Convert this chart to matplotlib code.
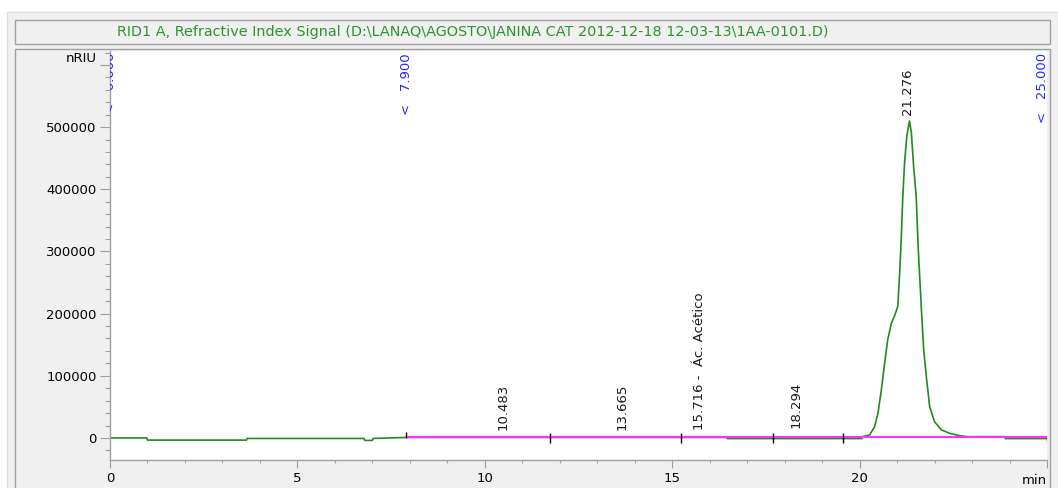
import matplotlib
matplotlib.use('Agg')
import matplotlib.pyplot as plt
from matplotlib.patches import Rectangle
from matplotlib.ticker import MultipleLocator

# RI signal (min, nRIU)
time = [0.0, 0.98, 1.0, 3.64, 3.66, 6.78, 6.8, 7.0, 7.02, 7.9,
        16.45, 16.47, 20.06, 20.08,
        20.27, 20.40, 20.49, 20.58, 20.67, 20.75, 20.85, 20.93, 21.02,
        21.07, 21.11, 21.15, 21.20, 21.26, 21.33, 21.38, 21.44, 21.51,
        21.57, 21.65, 21.71, 21.78, 21.87, 22.00, 22.18, 22.40, 22.67,
        22.88, 23.87, 23.89, 25.0]
signal = [0, 0, -3500, -3500, -800, -800, -4000, -4000, -800, 800,
          800, -1000, -1000, 2000,
          5000, 18000, 40000, 77000, 121000, 158000, 185000, 196000, 212000,
          266000, 319000, 384000, 443000, 486000, 510000, 492000, 438000, 389000,
          298000, 206000, 142000, 99000, 50000, 26000, 13000, 7500, 3700,
          2000, 2000, -1000, -1000]

# integration baselines
base_time = [7.9, 16.45, 16.45, 25.0]
base_signal = [800, 800, 2000, 2000]

# integration event ticks
tick_time = [7.9, 11.75, 15.23, 17.68, 19.55, 25.0]
tick_low = [0, -8000, -8000, -8000, -8000, -6000]
tick_high = [9000, 8000, 8000, 8000, 8000, 2000]

# peak labels
peak_time = [10.483, 13.665, 15.716, 18.294, 21.276]
peak_height = [4000, 4000, 4000, 8000, 512000]
peak_label = ['10.483', '13.665', '15.716 -  Ác. Acético', '18.294', '21.276']

# timed events
event_time = [0.0, 7.9, 25.0]
event_label = ['<   0.000', '<   7.900', '<   25.000']
event_shift = [0, 0, -5]

title = 'RID1 A, Refractive Index Signal (D:\\LANAQ\\AGOSTO\\JANINA CAT 2012-12-18 12-03-13\\1AA-0101.D)'

W, H = 1058, 488
plt.rcParams['font.family'] = 'DejaVu Sans'
plt.rcParams['font.size'] = 9.5
fig = plt.figure(figsize=(W / 100, H / 100), dpi=100, facecolor='white')


def box(x0, y0, x1, y1, face, edge, lw=1.0):
    fig.patches.append(Rectangle((x0 / W, 1 - y1 / H), (x1 - x0) / W, (y1 - y0) / H,
                                 transform=fig.transFigure, facecolor=face,
                                 edgecolor=edge, linewidth=lw, zorder=-5))


box(7, 12, 1060, 492, '#f0f0f0', '#dcdcdc')
box(15, 20, 1050, 44, '#f0f0f0', '#a0a0a0')
box(15, 49, 1050, 495, '#f0f0f0', '#a0a0a0')
fig.text(473 / W, 1 - 32 / H, title, color='#2a962a', ha='center', va='center',
         fontsize=10.4)

ax = fig.add_axes([110 / W, 28 / H, (1047 - 110) / W, (460 - 51) / H])
ax.set_facecolor('white')

ax.plot(time, signal, color='#1e8c1e', lw=1.2, zorder=2)
ax.plot(base_time, base_signal, color='#ff30ff', lw=1.5, zorder=3)
ax.vlines(tick_time, tick_low, tick_high, color='black', lw=1.0, zorder=4)

for t, h, s in zip(peak_time, peak_height, peak_label):
    ax.annotate(s, xy=(t, h), xytext=(0, 5), textcoords='offset pixels',
                rotation=90, ha='center', va='bottom', color='#1a1a1a')

for t, s, dx in zip(event_time, event_label, event_shift):
    ax.annotate(s, xy=(t, 1), xycoords=('data', 'axes fraction'),
                xytext=(dx, -2), textcoords='offset pixels', rotation=90,
                ha='center', va='top', color='#2828ff', clip_on=True,
                annotation_clip=False)

ax.set_xlim(0, 25)
ax.set_ylim(-35500, 622600)

ax.set_xticks([0, 5, 10, 15, 20, 25])
ax.set_xticklabels(['0', '5', '10', '15', '20', ''])
ax.xaxis.set_minor_locator(MultipleLocator(1))
ax.set_yticks([0, 100000, 200000, 300000, 400000, 500000, 600000])
ax.set_yticklabels(['0', '100000', '200000', '300000', '400000', '500000', 'nRIU'])
ax.get_yticklabels()[-1].set_va('bottom')
ax.yaxis.set_minor_locator(MultipleLocator(20000))

ax.tick_params(axis='x', which='major', length=5.8, width=0.8, color='#a0a0a0', pad=3.0)
ax.tick_params(axis='x', which='minor', length=2.5, width=0.8, color='#a0a0a0')
ax.tick_params(axis='y', which='major', length=7.2, width=0.8, color='#a0a0a0', pad=2.5)
ax.tick_params(axis='y', which='minor', length=3.4, width=0.8, color='#a0a0a0')
ax.text(25, -0.035, 'min', transform=ax.get_xaxis_transform(), ha='right', va='top')

for side in ['top', 'right']:
    ax.spines[side].set_visible(False)
for side in ['left', 'bottom']:
    ax.spines[side].set_color('#a0a0a0')
    ax.spines[side].set_linewidth(1.0)

fig.savefig('out.png', dpi=100, facecolor=fig.get_facecolor())
